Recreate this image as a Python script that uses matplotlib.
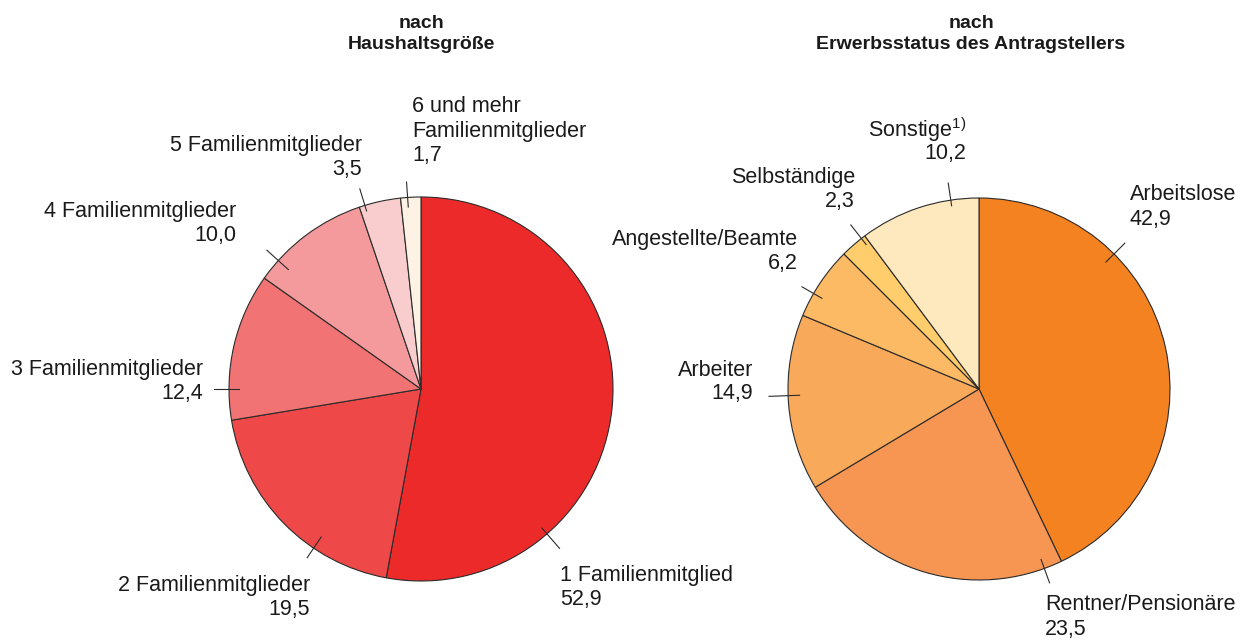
import numpy as np
import matplotlib.pyplot as plt

plt.rcParams['font.family'] = ['Liberation Sans', 'DejaVu Sans']
plt.rcParams['mathtext.fontset'] = 'custom'
plt.rcParams['mathtext.rm'] = 'Liberation Sans'

# left pie: households by size (%)
hh_labels = ['1 Familienmitglied', '2 Familienmitglieder', '3 Familienmitglieder',
             '4 Familienmitglieder', '5 Familienmitglieder',
             '6 und mehr\nFamilienmitglieder']
hh_values = [52.9, 19.5, 12.4, 10.0, 3.5, 1.7]
hh_colors = ['#ED2A2A', '#EF4848', '#F27373', '#F59A9C', '#F9CDCD', '#FEF2E4']

# right pie: employment status of applicant (%)
emp_labels = ['Arbeitslose', 'Rentner/Pensionäre', 'Arbeiter', 'Angestellte/Beamte',
              'Selbständige', 'Sonstige$^{\\mathrm{1)}}$']
emp_values = [42.9, 23.5, 14.9, 6.2, 2.3, 10.2]
emp_colors = ['#F58220', '#F79552', '#F9A95A', '#FBBA63', '#FFCD6B', '#FEE8BE']

W, H = 1245, 642
fig = plt.figure(figsize=(W / 100, H / 100), dpi=100)
ax = fig.add_axes([0, 0, 1, 1])


def fmt(v):
    return f'{v:.1f}'.replace('.', ',')


def draw_pie(values, colors, labels, cx, cy, r, layout):
    ax.pie(values, colors=colors, startangle=90, counterclock=False,
           center=(cx, H - cy), radius=r,
           wedgeprops=dict(edgecolor='#2b2b2b', linewidth=0.8))
    for lab, v, (ang, r0, r1, tx, ty, ha) in zip(labels, values, layout):
        a = np.deg2rad(ang)
        ax.plot([cx + r0 * r * np.cos(a), cx + r1 * r * np.cos(a)],
                [H - cy + r0 * r * np.sin(a), H - cy + r1 * r * np.sin(a)],
                color='#2b2b2b', lw=0.8)
        lines = lab.split('\n') + [fmt(v)]
        for i, s in enumerate(lines):
            ax.text(tx, H - (ty + 24 * i), s, ha=ha, va='center',
                    fontsize=15.5, color='#1a1a1a')


# (leader angle, inner r, outer r, text x, text y, align)
hh_layout = [(-49, 0.96, 1.10, 560, 575, 'left'),
             (-124, 0.93, 1.06, 310, 586, 'right'),
             (180, 0.95, 1.08, 203, 369, 'right'),
             (138, 0.93, 1.08, 236, 212, 'right'),
             (107, 0.97, 1.09, 362, 145, 'right'),
             (94, 0.95, 1.08, 412, 107, 'left')]
emp_layout = [(45, 0.94, 1.08, 1130, 195, 'left'),
              (-70, 0.95, 1.08, 1045, 605, 'left'),
              (182, 0.94, 1.10, 753, 370, 'right'),
              (150, 0.95, 1.07, 798, 240, 'right'),
              (128, 0.96, 1.09, 855, 177, 'right'),
              (98.5, 0.97, 1.09, 966, 130, 'right')]

draw_pie(hh_values, hh_colors, hh_labels, 421, 389, 192, hh_layout)
draw_pie(emp_values, emp_colors, emp_labels, 979, 389, 191, emp_layout)

ax.text(421, H - 34, 'nach\nHaushaltsgröße', ha='center', va='center',
        fontsize=14, fontweight='bold', color='#1a1a1a', linespacing=1.35)
ax.text(971, H - 34, 'nach\nErwerbsstatus des Antragstellers', ha='center',
        va='center', fontsize=14, fontweight='bold', color='#1a1a1a',
        linespacing=1.35)

ax.set_xlim(0, W)
ax.set_ylim(0, H)
ax.set_aspect('auto')
ax.axis('off')

fig.savefig('out.png', dpi=100, facecolor='white')
